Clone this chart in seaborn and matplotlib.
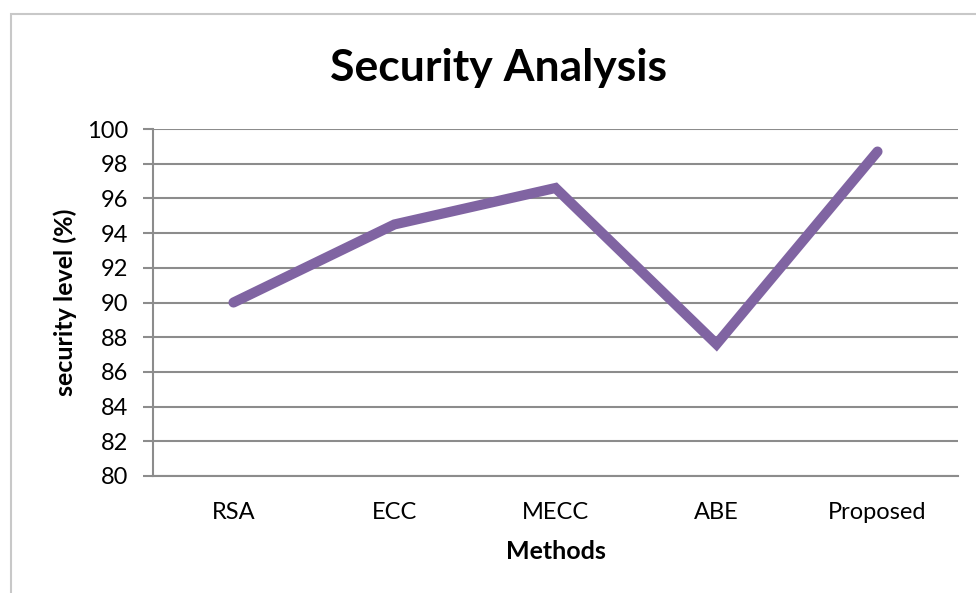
import matplotlib
matplotlib.use("Agg")
import matplotlib.pyplot as plt
import seaborn as sns
import pandas as pd

# -----------------------------
# Data
# -----------------------------

methods = ["RSA", "ECC", "MECC", "ABE", "Proposed"]
security_level = [90.0, 94.5, 96.6, 87.6, 98.7]
y_ticks = [80, 82, 84, 86, 88, 90, 92, 94, 96, 98, 100]

data = pd.DataFrame({"Methods": methods, "security": security_level})

# -----------------------------
# Plot
# -----------------------------

sns.set_style("white")
plt.rcParams["font.family"] = ["Lato", "DejaVu Sans"]

fig = plt.figure(figsize=(9.76, 5.93), dpi=100)
ax = fig.add_axes([153 / 976, 1 - 476 / 593, (958 - 153) / 976, (476 - 129) / 593])

# outer chart frame
frame = plt.Rectangle((11 / 976, -0.05), 1.1, 1 - 14 / 593 + 0.05,
                      transform=fig.transFigure, fill=False,
                      edgecolor="#c8c8c8", linewidth=1.5)
fig.add_artist(frame)

x_pos = list(range(len(methods)))
sns.lineplot(x=x_pos, y=data["security"], ax=ax, color="#8064a2",
             linewidth=7.3, solid_capstyle="round", solid_joinstyle="miter")

ax.set_xlim(-0.5, len(methods) - 0.5)
ax.set_ylim(80, 100)
ax.set_yticks(y_ticks)
ax.set_xticks(x_pos)
ax.set_xticklabels(methods)
ax.yaxis.grid(True, color="#8c8c8c", linewidth=1.5)
ax.set_axisbelow(True)

for side in ["top", "right"]:
    ax.spines[side].set_visible(False)
ax.spines["left"].set_color("#8c8c8c")
ax.spines["left"].set_linewidth(1.5)
ax.spines["bottom"].set_color("#8c8c8c")
ax.spines["bottom"].set_linewidth(1.5)

ax.tick_params(axis="y", left=True, length=7, width=1.5, color="#8c8c8c",
               labelsize=17, labelcolor="black", pad=11)
ax.tick_params(axis="x", bottom=False, length=0, labelsize=17,
               labelcolor="black", pad=19)

ax.set_xlabel("Methods", fontsize=18, fontweight="bold", color="black")
ax.xaxis.set_label_coords(0.5, -0.219)
ax.xaxis.label.set_va("center")
ax.set_ylabel("security level (%)", fontsize=18, fontweight="bold", color="black")
ax.yaxis.set_label_coords(-0.109, 0.5)
ax.yaxis.label.set_va("center")

fig.text(498 / 976, 1 - 68 / 593, "Security Analysis", fontsize=32,
         fontweight="bold", ha="center", va="center", color="black")

plt.savefig("out.png", dpi=100)
plt.close()
